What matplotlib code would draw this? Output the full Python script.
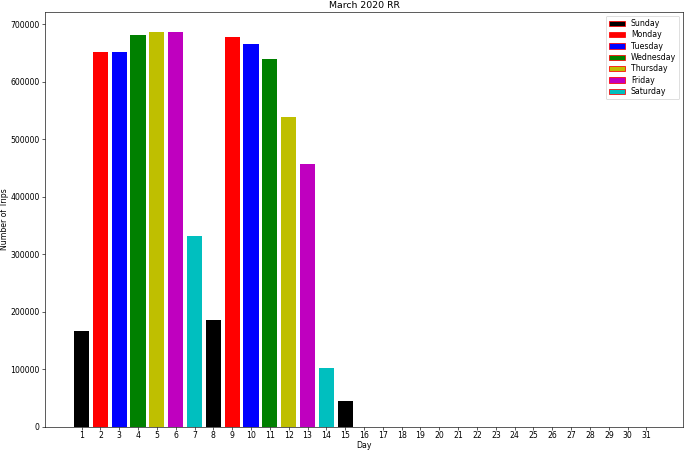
import matplotlib
matplotlib.use("Agg")
import matplotlib.pyplot as plt
from matplotlib.patches import Patch

days = list(range(1, 32))
trips = [166000, 651000, 651000, 682000, 687000, 686000, 332000, 185500,
         677000, 665000, 639000, 538000, 456000, 102000, 45000] + [0] * 16
weekday_names = ["Sunday", "Monday", "Tuesday", "Wednesday", "Thursday", "Friday", "Saturday"]
weekday_colors = ["k", "r", "b", "g", "y", "m", "c"]
# March 1, 2020 was a Sunday
bar_colors = [weekday_colors[(d - 1) % 7] for d in days]

DPI = 56
fig = plt.figure(figsize=(685 / DPI, 450 / DPI), dpi=DPI)
ax = fig.add_axes([45 / 685, 23.5 / 450, (683 - 45) / 685, (426.5 - 12) / 450])
ax.bar(days, trips, color=bar_colors, width=0.8)
ax.set_xticks(days)
ax.set_xticklabels([str(d) for d in days])
ax.tick_params(axis="x", pad=2.5)
ax.set_xlabel("Day", labelpad=0.5)
ax.set_ylabel("Number of Trips", labelpad=1)
ax.set_title("March 2020 RR", pad=5)
handles = [Patch(facecolor=c, edgecolor="r", label=n) for c, n in zip(weekday_colors, weekday_names)]
ax.legend(handles=handles, loc="upper right", labelspacing=0.3)
fig.savefig("out.png", dpi=DPI)
